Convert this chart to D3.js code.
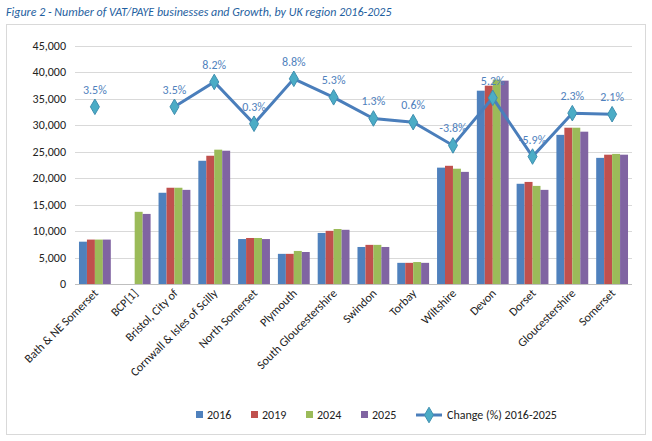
<!DOCTYPE html>
<html>
<head>
<meta charset="utf-8">
<script src="https://cdn.jsdelivr.net/npm/d3@7"></script>
<style>
body { margin: 0; background: #fff; font-family: Calibri, Carlito, "Liberation Sans", sans-serif; }
</style>
</head>
<body>
<svg id="chart" width="652" height="441"></svg>
<script>
// categories and series
const regions = ["Bath & NE Somerset", "BCP[1]", "Bristol, City of", "Cornwall & Isles of Scilly",
  "North Somerset", "Plymouth", "South Gloucestershire", "Swindon", "Torbay", "Wiltshire",
  "Devon", "Dorset", "Gloucestershire", "Somerset"];
const v2016 = [8000, null, 17250, 23300, 8500, 5700, 9650, 7000, 4000, 22000, 36550, 18950, 28200, 23850];
const v2019 = [8400, null, 18200, 24250, 8700, 5700, 10050, 7400, 4000, 22350, 37500, 19300, 29550, 24450];
const v2024 = [8400, 13650, 18200, 25400, 8700, 6250, 10400, 7400, 4150, 21800, 38650, 18550, 29550, 24600];
const v2025 = [8400, 13250, 17800, 25200, 8500, 6050, 10250, 7000, 4000, 21200, 38450, 17800, 28800, 24450];
const change = [3.5, null, 3.5, 8.2, 0.3, 8.8, 5.3, 1.3, 0.6, -3.8, 5.2, -5.9, 2.3, 2.1];
const yTicks = [0, 5000, 10000, 15000, 20000, 25000, 30000, 35000, 40000, 45000];

const series = [
  { name: "2016", values: v2016, color: "#4f81bd" },
  { name: "2019", values: v2019, color: "#c0504d" },
  { name: "2024", values: v2024, color: "#9bbb59" },
  { name: "2025", values: v2025, color: "#8064a2" }
];

const svg = d3.select("#chart");
const m = { left: 75, right: 632, top: 46, bottom: 284 };

// outer frame
svg.append("rect").attr("x", 6.5).attr("y", 24.5).attr("width", 639).attr("height", 410)
  .attr("fill", "none").attr("stroke", "#d9d9d9");

svg.append("text").attr("x", 6).attr("y", 16)
  .attr("font-size", 12).attr("font-style", "italic").attr("fill", "#1f5fa0")
  .text("Figure 2 - Number of VAT/PAYE businesses and Growth, by UK region 2016-2025");

const x = d3.scaleBand().domain(regions).range([m.left, m.right]);
const xs = d3.scaleBand().domain(series.map(s => s.name)).range([0, x.bandwidth()]).paddingOuter(0.5);
const y = d3.scaleLinear().domain([0, 45000]).range([m.bottom, m.top]);
const y2 = d3.scaleLinear().domain([-30, 15]).range([m.bottom, m.top]);

// gridlines
svg.append("g").selectAll("line").data(yTicks).join("line")
  .attr("x1", m.left).attr("x2", m.right)
  .attr("y1", d => Math.round(y(d)) + 0.5).attr("y2", d => Math.round(y(d)) + 0.5)
  .attr("stroke", "#d9d9d9");

svg.append("g").selectAll("text").data(yTicks).join("text")
  .attr("x", 66).attr("y", d => y(d) + 4).attr("text-anchor", "end")
  .attr("font-size", 12).attr("fill", "#222")
  .text(d => d3.format(",")(d));

// bars
series.forEach(s => {
  svg.append("g").selectAll("rect").data(s.values.map((v, i) => ({ v, r: regions[i] })).filter(d => d.v != null))
    .join("rect")
    .attr("x", d => x(d.r) + xs(s.name))
    .attr("width", xs.bandwidth())
    .attr("y", d => y(d.v))
    .attr("height", d => y(0) - y(d.v))
    .attr("fill", s.color);
});

// axis line
svg.append("line").attr("x1", m.left).attr("x2", m.right)
  .attr("y1", m.bottom + 0.5).attr("y2", m.bottom + 0.5).attr("stroke", "#bfbfbf");

// x labels rotated
svg.append("g").selectAll("text").data(regions).join("text")
  .attr("transform", d => `translate(${x(d) + x.bandwidth() / 2 + 4},${m.bottom + 10}) rotate(-45)`)
  .attr("text-anchor", "end").attr("font-size", 12).attr("fill", "#222")
  .text(d => d);

// change line, broken at missing values
const pts = change.map((c, i) => ({ c, r: regions[i] }));
const line = d3.line().defined(d => d.c != null)
  .x(d => x(d.r) + x.bandwidth() / 2).y(d => y2(d.c));
svg.append("path").datum(pts).attr("d", line)
  .attr("fill", "none").attr("stroke", "#4a7ebb").attr("stroke-width", 3);

const diamond = d3.symbol().type(d3.symbolDiamond).size(70);
svg.append("g").selectAll("path").data(pts.filter(d => d.c != null)).join("path")
  .attr("d", diamond)
  .attr("transform", d => `translate(${x(d.r) + x.bandwidth() / 2},${y2(d.c)})`)
  .attr("fill", "#4bacc6").attr("stroke", "#3f8fb0");

svg.append("g").selectAll("text").data(pts.filter(d => d.c != null)).join("text")
  .attr("x", d => x(d.r) + x.bandwidth() / 2)
  .attr("y", d => y2(d.c) - 13)
  .attr("text-anchor", "middle").attr("font-size", 12).attr("fill", "#4f81bd")
  .text(d => d.c.toFixed(1) + "%");

// legend
const lg = svg.append("g").attr("transform", "translate(196,415)");
series.forEach((s, i) => {
  const g = lg.append("g").attr("transform", `translate(${i * 55},0)`);
  g.append("rect").attr("x", 0).attr("y", -4).attr("width", 7).attr("height", 7).attr("fill", s.color);
  g.append("text").attr("x", 11).attr("y", 4).attr("font-size", 12).attr("fill", "#222").text(s.name);
});
const ll = lg.append("g").attr("transform", "translate(220,0)");
ll.append("line").attr("x1", 0).attr("x2", 26).attr("y1", 0).attr("y2", 0)
  .attr("stroke", "#4a7ebb").attr("stroke-width", 3);
ll.append("path").attr("d", diamond).attr("transform", "translate(13,0)")
  .attr("fill", "#4bacc6").attr("stroke", "#3f8fb0");
ll.append("text").attr("x", 31).attr("y", 4).attr("font-size", 12).attr("fill", "#222")
  .text("Change (%) 2016-2025");
</script>
</body>
</html>
